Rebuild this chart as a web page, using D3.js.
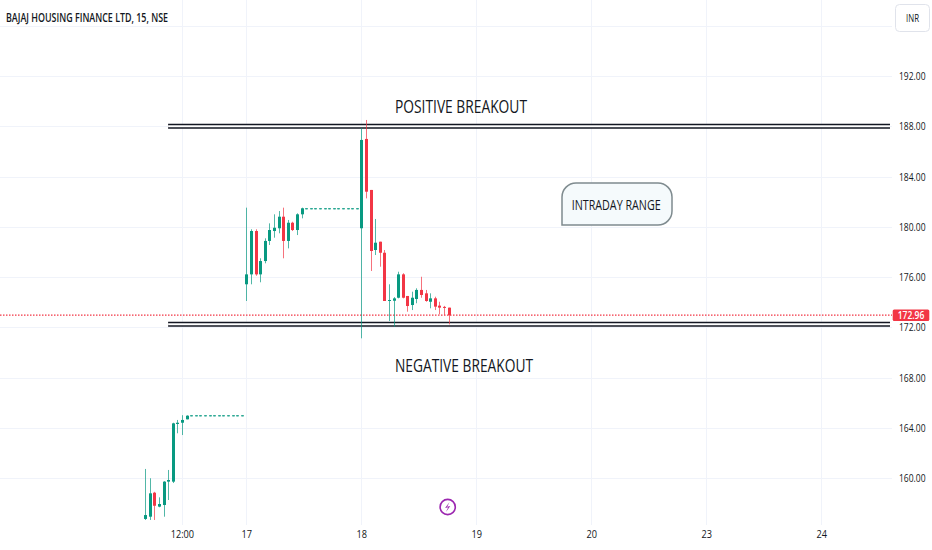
<!DOCTYPE html>
<html>
<head>
<meta charset="utf-8">
<script src="https://cdnjs.cloudflare.com/ajax/libs/d3/7.8.5/d3.min.js"></script>
<style>
  body { margin: 0; background: #fff; }
  svg { display: block; font-family: "Open Sans", sans-serif; }
</style>
</head>
<body>
<svg id="chart" width="932" height="550"></svg>
<script>
// chart values
var title = "BAJAJ HOUSING FINANCE LTD, 15, NSE";
var barsPerDay = 25;
var priceTicks = [196, 192, 188, 184, 180, 176, 172, 168, 164, 160];
var timeTickBars = [11, 25, 50, 75, 100, 125, 150];
var timeTickLabels = ["12:00", "17", "18", "19", "20", "23", "24"];

// [open, high, low, close], 15 min bars
var day16First = 3;
var day16Bars = [
  [156.74, 160.72, 156.66, 157.05], [156.92, 159.98, 156.66, 158.78],
  [158.83, 158.90, 156.66, 157.79], [157.72, 158.46, 157.67, 157.93],
  [157.85, 159.75, 156.92, 159.71], [159.71, 160.64, 158.25, 159.84],
  [159.71, 164.40, 159.60, 164.35], [164.30, 164.62, 163.56, 164.40],
  [164.40, 165.00, 163.42, 164.62], [164.67, 164.99, 164.67, 164.96],
  [164.99, 164.99, 164.99, 164.99], [164.99, 164.99, 164.99, 164.99],
  [164.99, 164.99, 164.99, 164.99], [164.99, 164.99, 164.99, 164.99],
  [164.99, 164.99, 164.99, 164.99], [164.99, 164.99, 164.99, 164.99],
  [164.99, 164.99, 164.99, 164.99], [164.99, 164.99, 164.99, 164.99],
  [164.99, 164.99, 164.99, 164.99], [164.99, 164.99, 164.99, 164.99],
  [164.99, 164.99, 164.99, 164.99], [164.99, 164.99, 164.99, 164.99]
];
var day17Bars = [
  [175.42, 181.52, 174.09, 176.21], [176.21, 179.80, 175.42, 179.66],
  [179.66, 179.80, 176.10, 176.21], [176.21, 177.49, 175.58, 177.27],
  [177.27, 179.08, 177.09, 178.87], [178.87, 180.27, 178.55, 179.74],
  [179.66, 180.99, 179.13, 179.92], [179.88, 181.25, 179.48, 180.80],
  [180.80, 181.52, 177.49, 178.87], [178.87, 180.54, 178.28, 180.32],
  [180.32, 180.40, 179.66, 179.74], [179.74, 181.07, 179.34, 180.99],
  [180.99, 181.52, 180.67, 181.47],
  [181.47, 181.47, 181.47, 181.47], [181.47, 181.47, 181.47, 181.47],
  [181.47, 181.47, 181.47, 181.47], [181.47, 181.47, 181.47, 181.47],
  [181.47, 181.47, 181.47, 181.47], [181.47, 181.47, 181.47, 181.47],
  [181.47, 181.47, 181.47, 181.47], [181.47, 181.47, 181.47, 181.47],
  [181.47, 181.47, 181.47, 181.47], [181.47, 181.47, 181.47, 181.47],
  [181.47, 181.47, 181.47, 181.47], [181.47, 181.47, 181.47, 181.47]
];
var day18Bars = [
  [179.88, 187.84, 171.12, 186.91], [186.99, 188.50, 182.26, 182.79],
  [182.93, 182.93, 176.48, 178.07], [178.15, 180.62, 177.75, 178.73],
  [178.81, 178.81, 176.82, 177.93], [177.93, 178.15, 174.09, 174.09],
  [174.09, 175.42, 172.50, 174.17], [174.11, 174.40, 172.04, 174.30],
  [174.35, 176.42, 174.30, 176.21], [176.21, 176.30, 174.30, 174.35],
  [174.49, 174.49, 173.24, 173.69], [173.77, 174.83, 173.37, 174.35],
  [174.25, 175.10, 173.91, 174.97], [174.97, 176.02, 174.35, 174.57],
  [174.70, 174.97, 174.03, 174.09], [174.03, 174.70, 173.51, 174.30],
  [174.30, 174.43, 173.37, 173.64], [173.72, 174.03, 173.03, 173.56],
  [173.62, 173.70, 172.98, 173.55], [173.56, 173.56, 172.23, 172.96]
];

var lastPrice = 172.96;
var upperLevel = 188.0;
var lowerLevel = 172.24;
var levelStartBar = 8;
var upperLabel = "POSITIVE BREAKOUT";
var lowerLabel = "NEGATIVE BREAKOUT";
var rangeLabel = "INTRADAY RANGE";
var eventBar = 69;

var UP = "#089981", DOWN = "#f23645", TEXT = "#131722", GRID = "#f0f3fa";
var plotRight = 892, plotBottom = 525;

var svg = d3.select("#chart");

var x = d3.scaleLinear().domain([0, 175]).range([131.3, 131.3 + 175 * 4.6]);
var y = d3.scaleLinear().domain([160, 192]).range([478, 76]);

function crisp(v) { return Math.round(v) + 0.5; }

// flatten the days into one list with a running bar index
var bars = [];
day16Bars.forEach(function(b, i) { bars.push({ i: day16First + i, o: b[0], h: b[1], l: b[2], c: b[3] }); });
day17Bars.forEach(function(b, i) { bars.push({ i: barsPerDay + i, o: b[0], h: b[1], l: b[2], c: b[3] }); });
day18Bars.forEach(function(b, i) { bars.push({ i: 2 * barsPerDay + i, o: b[0], h: b[1], l: b[2], c: b[3] }); });

// grid
svg.append("g").selectAll("line").data(priceTicks).join("line")
    .attr("x1", 0).attr("x2", plotRight)
    .attr("y1", function(d) { return crisp(y(d)); })
    .attr("y2", function(d) { return crisp(y(d)); })
    .attr("stroke", GRID);

svg.append("g").selectAll("line").data(timeTickBars).join("line")
    .attr("x1", function(d) { return crisp(x(d)); })
    .attr("x2", function(d) { return crisp(x(d)); })
    .attr("y1", 0).attr("y2", plotBottom)
    .attr("stroke", GRID);

// title
svg.append("text")
    .attr("x", 6).attr("y", 21.5)
    .attr("font-size", 12.5).attr("font-weight", 600)
    .attr("fill", TEXT)
    .attr("textLength", 162).attr("lengthAdjust", "spacingAndGlyphs")
    .text(title);

// last price dotted line
svg.append("line")
    .attr("x1", 0).attr("x2", plotRight)
    .attr("y1", y(lastPrice)).attr("y2", y(lastPrice))
    .attr("stroke", DOWN).attr("stroke-width", 1.2)
    .attr("stroke-dasharray", "1.5,1.5");

// breakout levels (double lines)
[upperLevel, lowerLevel].forEach(function(p) {
    var g = svg.append("g");
    g.append("line")
        .attr("x1", x(levelStartBar)).attr("x2", 890)
        .attr("y1", y(p)).attr("y2", y(p))
        .attr("stroke", TEXT).attr("stroke-width", 5.2);
    g.append("line")
        .attr("x1", x(levelStartBar)).attr("x2", 890)
        .attr("y1", y(p)).attr("y2", y(p))
        .attr("stroke", "#fff").attr("stroke-width", 1.9);
});

// candles
var candle = svg.append("g").selectAll("g").data(bars).join("g")
    .attr("fill", function(d) { return d.c >= d.o ? UP : DOWN; });

candle.append("rect")
    .attr("x", function(d) { return Math.round(x(d.i)); })
    .attr("width", 1)
    .attr("y", function(d) { return y(d.h); })
    .attr("height", function(d) { return Math.max(1, y(d.l) - y(d.h)); })
    .attr("opacity", 0.7);

candle.append("rect")
    .attr("x", function(d) { return Math.round(x(d.i)) - 1; })
    .attr("width", 3)
    .attr("y", function(d) { return y(Math.max(d.o, d.c)); })
    .attr("height", function(d) { return Math.max(1, Math.abs(y(d.o) - y(d.c))); });

// level captions
svg.append("text")
    .attr("x", 395).attr("y", 113.3)
    .attr("font-size", 18).attr("fill", TEXT)
    .attr("textLength", 132).attr("lengthAdjust", "spacingAndGlyphs")
    .text(upperLabel);

svg.append("text")
    .attr("x", 395).attr("y", 372.3)
    .attr("font-size", 18).attr("fill", TEXT)
    .attr("textLength", 138).attr("lengthAdjust", "spacingAndGlyphs")
    .text(lowerLabel);

// callout box
var bx = 562, by = 183, bw = 110, bh = 42, r = 14;
svg.append("path")
    .attr("d", "M" + bx + "," + (by + r) +
        " A" + r + "," + r + " 0 0 1 " + (bx + r) + "," + by +
        " H" + (bx + bw - r) +
        " A" + r + "," + r + " 0 0 1 " + (bx + bw) + "," + (by + r) +
        " V" + (by + bh - r) +
        " A" + r + "," + r + " 0 0 1 " + (bx + bw - r) + "," + (by + bh) +
        " H" + bx + " Z")
    .attr("fill", "#f5fafc")
    .attr("stroke", "#7f8b8f").attr("stroke-width", 1.5);

svg.append("text")
    .attr("x", 571.7).attr("y", 210)
    .attr("font-size", 14.5).attr("fill", TEXT)
    .attr("textLength", 89).attr("lengthAdjust", "spacingAndGlyphs")
    .text(rangeLabel);

// price axis
var yAxis = svg.append("g")
    .attr("transform", "translate(899,0)")
    .call(d3.axisRight(y).tickValues(priceTicks.slice(1)).tickFormat(d3.format(".2f")).tickSize(0).tickPadding(0));
yAxis.select(".domain").remove();
yAxis.selectAll("text")
    .attr("font-family", "'Open Sans', sans-serif")
    .attr("font-size", 11.5).attr("fill", TEXT)
    .attr("transform", "scale(0.74,1)");

// time axis
var xAxis = svg.append("g")
    .attr("transform", "translate(0,527)")
    .call(d3.axisBottom(x).tickValues(timeTickBars)
        .tickFormat(function(d, i) { return timeTickLabels[i]; })
        .tickSize(0).tickPadding(3));
xAxis.select(".domain").remove();
xAxis.selectAll("text")
    .attr("font-family", "'Open Sans', sans-serif")
    .attr("font-size", 11.5).attr("fill", TEXT)
    .attr("transform", "scale(0.8,1)");

// last price tag
svg.append("rect")
    .attr("x", 892.7).attr("y", y(lastPrice) - 5.8)
    .attr("width", 36.6).attr("height", 11.6).attr("rx", 1.5)
    .attr("fill", DOWN);
svg.append("text")
    .attr("transform", "translate(911," + (y(lastPrice) + 4) + ") scale(0.74,1)")
    .attr("text-anchor", "middle")
    .attr("font-size", 11.5).attr("font-weight", 600).attr("fill", "#fff")
    .text(d3.format(".2f")(lastPrice));

// currency button
svg.append("rect")
    .attr("x", 895.5).attr("y", 4.5).attr("width", 34).attr("height", 27).attr("rx", 4)
    .attr("fill", "#fff").attr("stroke", "#e0e3eb");
svg.append("text")
    .attr("transform", "translate(912.5,22) scale(0.75,1)")
    .attr("text-anchor", "middle")
    .attr("font-size", 10.5).attr("fill", TEXT)
    .text("INR");

// event marker (lightning)
var ex = x(eventBar) - 1, ey = 507;
svg.append("circle")
    .attr("cx", ex).attr("cy", ey).attr("r", 7.6)
    .attr("fill", "#fff").attr("stroke", "#9c27b0").attr("stroke-width", 1.6);
svg.append("path")
    .attr("d", "M" + (ex + 1.8) + "," + (ey - 5) +
        " L" + (ex - 2.6) + "," + (ey + 0.9) +
        " L" + (ex + 0.5) + "," + (ey + 0.3) +
        " L" + (ex - 1.8) + "," + (ey + 5) +
        " L" + (ex + 2.6) + "," + (ey - 0.9) +
        " L" + (ex - 0.5) + "," + (ey - 0.3) + " Z")
    .attr("fill", "#9c27b0");
</script>
</body>
</html>
